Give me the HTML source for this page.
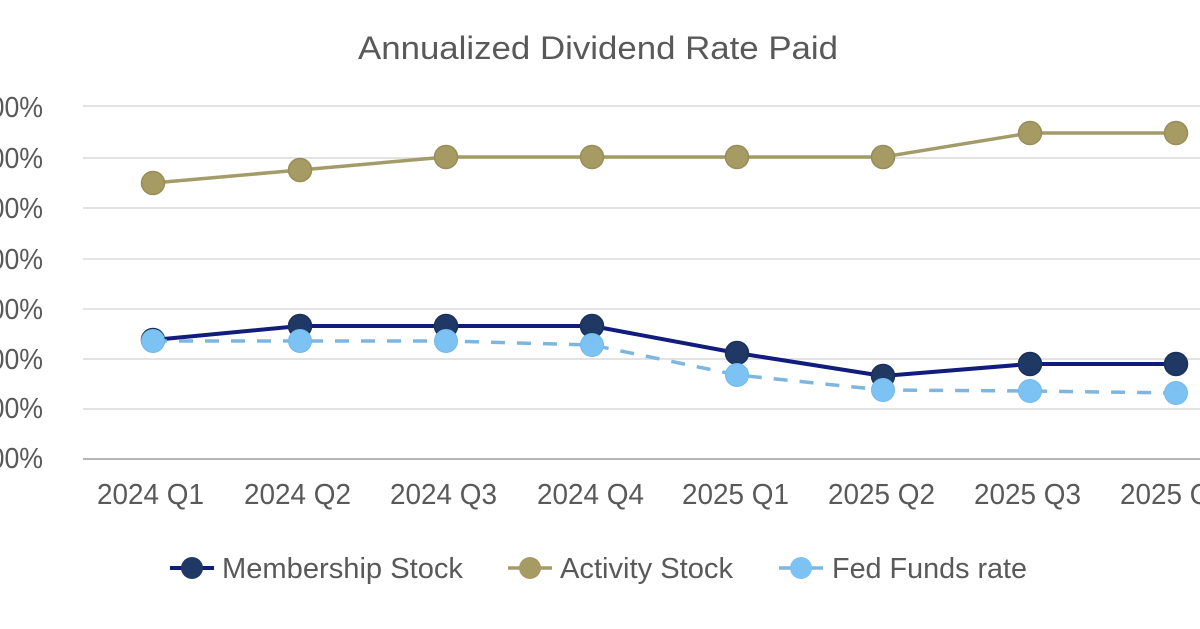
<!DOCTYPE html>
<html>
<head>
<meta charset="utf-8">
<style>
html,body{margin:0;padding:0;background:#fff;}
svg{display:block;}
text{font-family:"Liberation Sans",Arial,sans-serif;fill:#595959;}
</style>
</head>
<body>
<svg width="1200" height="629" viewBox="0 0 1200 629" xmlns="http://www.w3.org/2000/svg">
<rect width="1200" height="629" fill="#ffffff"/>
<!-- title -->
<text x="358" y="59" font-size="32" textLength="480" lengthAdjust="spacingAndGlyphs">Annualized Dividend Rate Paid</text>

<!-- gridlines -->
<g stroke="#e3e3e3" stroke-width="2">
<line x1="83" y1="106" x2="1200" y2="106"/>
<line x1="83" y1="158" x2="1200" y2="158"/>
<line x1="83" y1="208" x2="1200" y2="208"/>
<line x1="83" y1="259" x2="1200" y2="259"/>
<line x1="83" y1="309" x2="1200" y2="309"/>
<line x1="83" y1="359" x2="1200" y2="359"/>
<line x1="83" y1="409" x2="1200" y2="409"/>
</g>
<line x1="83" y1="459" x2="1200" y2="459" stroke="#b5b5b5" stroke-width="2"/>

<!-- y labels -->
<g transform="translate(43,0) scale(0.92,1)" font-size="29" text-anchor="end">
<text x="0" y="117">7.00%</text>
<text x="0" y="168">6.00%</text>
<text x="0" y="218">5.00%</text>
<text x="0" y="269">4.00%</text>
<text x="0" y="319">3.00%</text>
<text x="0" y="369">2.00%</text>
<text x="0" y="418">1.00%</text>
<text x="0" y="468">0.00%</text>
</g>

<!-- x labels -->
<g font-size="29">
<text x="97" y="504" textLength="107" lengthAdjust="spacingAndGlyphs">2024 Q1</text>
<text x="244" y="504" textLength="107" lengthAdjust="spacingAndGlyphs">2024 Q2</text>
<text x="390" y="504" textLength="107" lengthAdjust="spacingAndGlyphs">2024 Q3</text>
<text x="537" y="504" textLength="107" lengthAdjust="spacingAndGlyphs">2024 Q4</text>
<text x="682" y="504" textLength="107" lengthAdjust="spacingAndGlyphs">2025 Q1</text>
<text x="828" y="504" textLength="107" lengthAdjust="spacingAndGlyphs">2025 Q2</text>
<text x="974" y="504" textLength="107" lengthAdjust="spacingAndGlyphs">2025 Q3</text>
<text x="1120" y="504" textLength="107" lengthAdjust="spacingAndGlyphs">2025 Q4</text>
</g>

<!-- Membership line -->
<polyline fill="none" stroke="#121c7c" stroke-width="4" stroke-linejoin="round"
 points="153,340 300,326 446,326 592,326 737,353 883,376 1030,364 1176,364"/>
<g fill="#1f3864" stroke="#18305a" stroke-width="1.5">
<circle cx="153" cy="340" r="11.5"/>
<circle cx="300" cy="326" r="11.5"/>
<circle cx="446" cy="326" r="11.5"/>
<circle cx="592" cy="326" r="11.5"/>
<circle cx="737" cy="353" r="11.5"/>
<circle cx="883" cy="376" r="11.5"/>
<circle cx="1030" cy="364" r="11.5"/>
<circle cx="1176" cy="364" r="11.5"/>
</g>

<!-- Activity line -->
<polyline fill="none" stroke="#a39c68" stroke-width="3.5" stroke-linejoin="round"
 points="153,183 300,170 446,157 592,157 737,157 883,157 1030,133 1176,133"/>
<g fill="#a69c63" stroke="#968d58" stroke-width="1.5">
<circle cx="153" cy="183" r="11.5"/>
<circle cx="300" cy="170" r="11.5"/>
<circle cx="446" cy="157" r="11.5"/>
<circle cx="592" cy="157" r="11.5"/>
<circle cx="737" cy="157" r="11.5"/>
<circle cx="883" cy="157" r="11.5"/>
<circle cx="1030" cy="133" r="11.5"/>
<circle cx="1176" cy="133" r="11.5"/>
</g>

<!-- Fed funds line -->
<polyline fill="none" stroke="#7fb6df" stroke-width="3.5" stroke-dasharray="14,12"
 points="153,341 300,341 446,341 592,345 737,375 883,390 1030,391 1176,393"/>
<g fill="#7cc3f4" stroke="#72b9ea" stroke-width="1">
<circle cx="153" cy="341" r="11.5"/>
<circle cx="300" cy="341" r="11.5"/>
<circle cx="446" cy="341" r="11.5"/>
<circle cx="592" cy="345" r="11.5"/>
<circle cx="737" cy="375" r="11.5"/>
<circle cx="883" cy="390" r="11.5"/>
<circle cx="1030" cy="391" r="11.5"/>
<circle cx="1176" cy="393" r="11.5"/>
</g>

<!-- legend -->
<line x1="170" y1="568" x2="214" y2="568" stroke="#121c7c" stroke-width="4"/>
<circle cx="192" cy="568" r="11" fill="#1f3864"/>
<text x="222" y="578" font-size="29" textLength="241" lengthAdjust="spacingAndGlyphs">Membership Stock</text>

<line x1="508" y1="568" x2="552" y2="568" stroke="#a39c68" stroke-width="3.5"/>
<circle cx="530" cy="568" r="11" fill="#a69c63"/>
<text x="560" y="578" font-size="29" textLength="173" lengthAdjust="spacingAndGlyphs">Activity Stock</text>

<line x1="779" y1="568" x2="823" y2="568" stroke="#7fb6df" stroke-width="3.5"/>
<circle cx="801" cy="568" r="11" fill="#7cc3f4"/>
<text x="832" y="578" font-size="29" textLength="195" lengthAdjust="spacingAndGlyphs">Fed Funds rate</text>
</svg>
</body>
</html>
